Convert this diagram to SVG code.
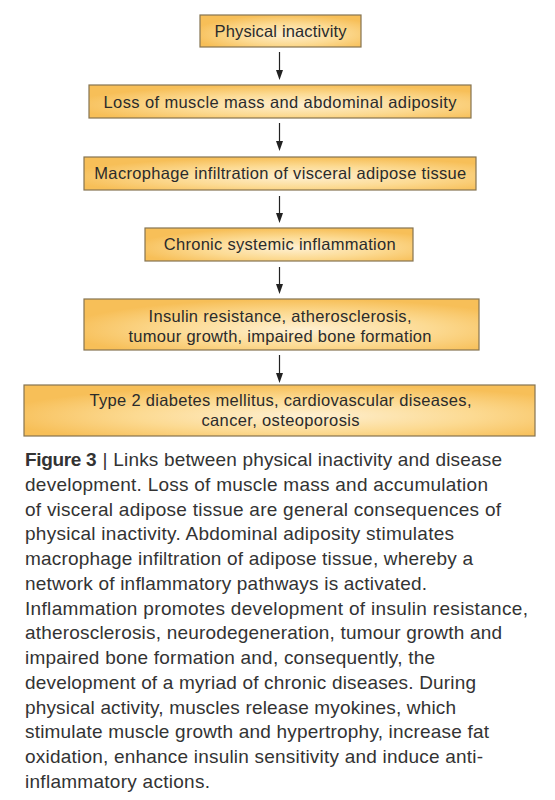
<svg xmlns="http://www.w3.org/2000/svg" width="555" height="800" viewBox="0 0 555 800">
<style>
.box{stroke:#857451;stroke-width:1.2;fill:url(#g)}
.bt{font-family:"Liberation Sans",Arial,sans-serif;font-size:16.5px;fill:#2b2b2b;text-anchor:middle}
.cap{font-family:"Liberation Sans",Arial,sans-serif;font-size:19px;fill:#333333}
.conn path{stroke:#222;stroke-width:1.2;fill:none}
.conn polygon{fill:#222}
</style>
<defs>
<radialGradient id="g" cx="0.55" cy="0.6" r="0.6">
<stop offset="0" stop-color="#fef0d2"/>
<stop offset="0.55" stop-color="#fcda92"/>
<stop offset="1" stop-color="#f7bf58"/>
</radialGradient>
</defs>
<rect width="555" height="800" fill="#ffffff"/>
<g id="connectors" class="conn">
<path d="M279.5,52 V70"/>
<polygon points="276,70 283,70 279.5,80"/>
<path d="M279.5,123 V141"/>
<polygon points="276,141 283,141 279.5,151"/>
<path d="M279.5,196 V213"/>
<polygon points="276,213 283,213 279.5,223"/>
<path d="M279.5,267 V284"/>
<polygon points="276,284 283,284 279.5,294"/>
<path d="M279.5,355 V373"/>
<polygon points="276,373 283,373 279.5,383"/>
</g>
<g id="n1"><rect class="box" x="200" y="15" width="161" height="32"/><text class="bt" x="280.5" y="37" textLength="132">Physical inactivity</text></g>
<g id="n2"><rect class="box" x="89" y="85" width="382" height="33"/><text class="bt" x="280" y="107.5" textLength="353">Loss of muscle mass and abdominal adiposity</text></g>
<g id="n3"><rect class="box" x="84" y="157" width="392" height="33"/><text class="bt" x="280.3" y="179" textLength="372">Macrophage infiltration of visceral adipose tissue</text></g>
<g id="n4"><rect class="box" x="145" y="228" width="268" height="33"/><text class="bt" x="279.7" y="250" textLength="232">Chronic systemic inflammation</text></g>
<g id="n5"><rect class="box" x="84" y="299" width="395" height="51"/><text class="bt" x="280" y="321.5" textLength="263">Insulin resistance, atherosclerosis,</text><text class="bt" x="280" y="341.5" textLength="303">tumour growth, impaired bone formation</text></g>
<g id="n6"><rect class="box" x="24" y="385" width="511" height="51"/><text class="bt" x="280.5" y="406" textLength="382">Type 2 diabetes mellitus, cardiovascular diseases,</text><text class="bt" x="280.5" y="426" textLength="158">cancer, osteoporosis</text></g>
<g id="caption">
<text class="cap" x="25" y="466" font-weight="bold" textLength="71.5">Figure 3</text>
<text class="cap" x="102.5" y="466" fill="#777" font-size="18">|</text>
<text class="cap" x="113.3" y="466" textLength="388.7">Links between physical inactivity and disease</text>
<text class="cap" x="25" y="490.8" textLength="463">development. Loss of muscle mass and accumulation</text>
<text class="cap" x="25" y="515.5" textLength="476">of visceral adipose tissue are general consequences of</text>
<text class="cap" x="25" y="540.3" textLength="429">physical inactivity. Abdominal adiposity stimulates</text>
<text class="cap" x="25" y="565" textLength="448">macrophage infiltration of adipose tissue, whereby a</text>
<text class="cap" x="25" y="589.8" textLength="402">network of inflammatory pathways is activated.</text>
<text class="cap" x="25" y="614.5" textLength="503">Inflammation promotes development of insulin resistance,</text>
<text class="cap" x="25" y="639.3" textLength="477">atherosclerosis, neurodegeneration, tumour growth and</text>
<text class="cap" x="25" y="664" textLength="410">impaired bone formation and, consequently, the</text>
<text class="cap" x="25" y="688.8" textLength="451">development of a myriad of chronic diseases. During</text>
<text class="cap" x="25" y="713.6" textLength="431">physical activity, muscles release myokines, which</text>
<text class="cap" x="25" y="738.3" textLength="464">stimulate muscle growth and hypertrophy, increase fat</text>
<text class="cap" x="25" y="763" textLength="458">oxidation, enhance insulin sensitivity and induce anti-</text>
<text class="cap" x="25" y="787.8" textLength="185">inflammatory actions.</text>
</g>
</svg>
